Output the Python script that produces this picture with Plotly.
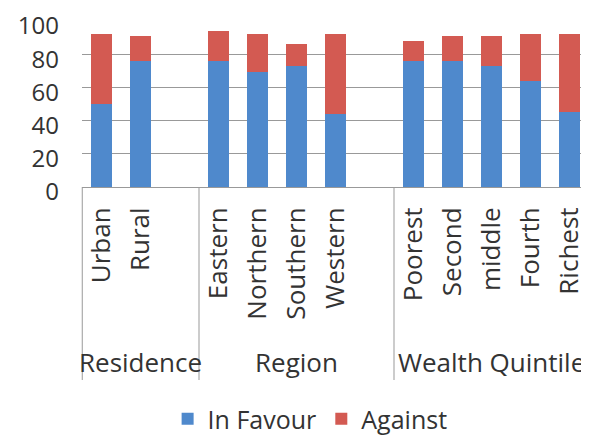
import plotly.graph_objects as go

group_names = ["Residence", "Region", "Wealth Quintile"]
group_members = [["Urban", "Rural", " "],
                 ["Eastern", "Northern", "Southern", "Western", "  "],
                 ["Poorest", "Second", "middle", "Fourth", "Richest"]]
categories = [c for g in group_members for c in g]
in_favour = [50, 76, None, 76, 69, 73, 44, None, 76, 76, 73, 64, 45]
against = [42, 15, None, 18, 23, 13, 48, None, 12, 15, 18, 28, 47]

BLUE = "#4F89CC"
RED = "#D35A52"
FONT = "Open Sans"
TXT = "#333333"
LINE = "#999999"

# The page has an 8px body margin, so the figure is sized to fit 589x437 exactly.
W, H = 581, 429
L, T, PH = 74, 13, 166

fig = go.Figure()
fig.add_trace(go.Bar(x=categories, y=in_favour, name="In Favour",
                     marker=dict(color=BLUE, line=dict(width=0))))
fig.add_trace(go.Bar(x=categories, y=against, name="Against",
                     marker=dict(color=RED, line=dict(width=0))))

n = len(categories)
shapes = []
annotations = []
start = 0
bounds = [0]
for name, members in zip(group_names, group_members):
    end = start + len(members)
    bounds.append(end)
    annotations.append(dict(x=(start + end - 1) / 2, xref="x", y=-175 / PH, yref="paper",
                            text=name, showarrow=False, xanchor="center", yanchor="middle",
                            font=dict(size=26, family=FONT, color=TXT)))
    start = end
for b in bounds:
    xp = min(max(b / n, 0.0005), 0.9995)
    shapes.append(dict(type="line", xref="paper", yref="paper", x0=xp, x1=xp,
                       y0=0, y1=-193 / PH, line=dict(color=LINE, width=1)))

fig.update_layout(
    width=W, height=H,
    barmode="stack", bargap=0.46,
    margin=dict(l=L, r=0, t=T, b=H - T - PH, autoexpand=False),
    paper_bgcolor="white", plot_bgcolor="white",
    font=dict(family=FONT, size=26, color=TXT),
    showlegend=True,
    shapes=shapes, annotations=annotations,
    legend=dict(orientation="h", xref="container", yref="container",
                x=0.52, xanchor="center", y=1 - 411 / H, yanchor="middle",
                font=dict(size=25, color=TXT), itemwidth=30, traceorder="normal",
                bgcolor="rgba(0,0,0,0)"),
    xaxis=dict(type="category", tickangle=-90, showline=True, linecolor=LINE,
               linewidth=1, ticks="", tickfont=dict(size=26, family=FONT, color=TXT),
               range=[-0.5, n - 0.5], automargin=False, ticklabelstandoff=9,
               ticklabeloverflow="allow", showgrid=False),
    yaxis=dict(range=[0, 100.01], dtick=20, showgrid=True, gridcolor="#999999", gridwidth=1,
               zeroline=False, showline=False, ticks="", automargin=False,
               ticklabelstandoff=22, ticklabelshift=5, ticklabeloverflow="allow",
               tickfont=dict(size=24, family=FONT, color=TXT)),
)

fig.write_html("out.html")
